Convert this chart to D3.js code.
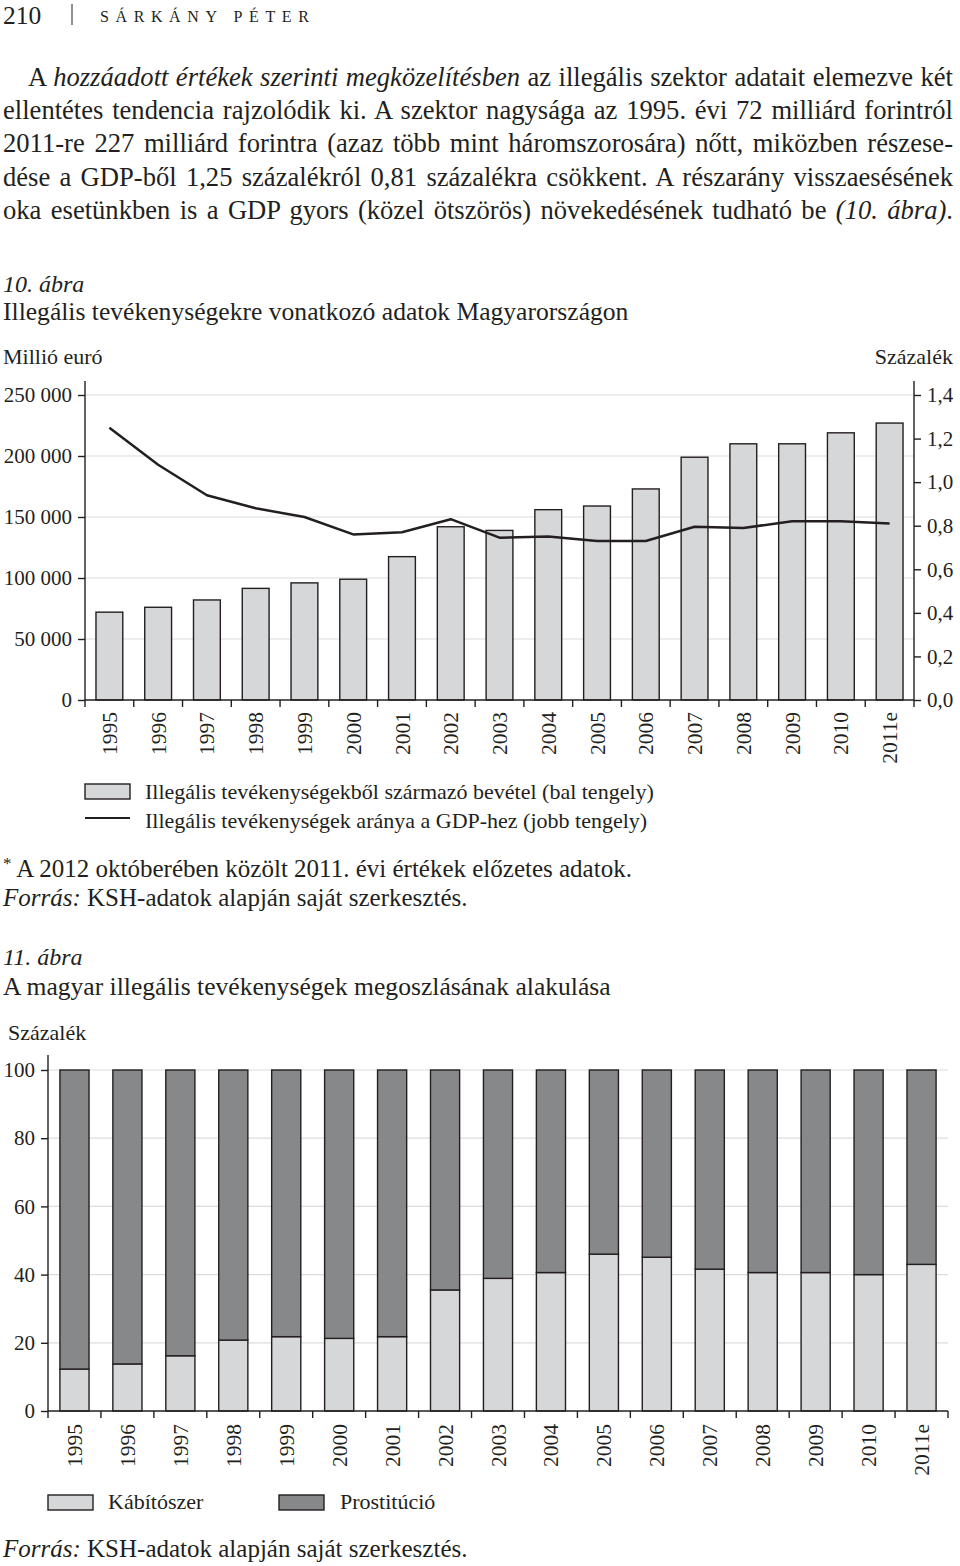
<!DOCTYPE html>
<html><head><meta charset="utf-8">
<script src="https://cdn.jsdelivr.net/npm/d3@7"></script>
<style>
body{margin:0;background:#fff;}
svg text{font-family:"Liberation Serif","Times New Roman",serif;fill:#231f20;}
</style></head>
<body><svg id="c" width="960" height="1566"></svg>
<script>
// ---- data ----
const years = ["1995","1996","1997","1998","1999","2000","2001","2002","2003","2004","2005","2006","2007","2008","2009","2010","2011e"];
const revenue = [72000,76000,82000,91500,96000,99000,117500,142000,139000,156000,159000,173000,199000,210000,210000,219000,227000];
const gdpShare = [1.25,1.08,0.94,0.88,0.84,0.76,0.77,0.83,0.745,0.75,0.73,0.73,0.795,0.79,0.82,0.82,0.81];
const leftTicks = [0,50000,100000,150000,200000,250000];
const rightTicks = [0,0.2,0.4,0.6,0.8,1.0,1.2,1.4];
const drugs = [12.3,13.8,16.2,20.8,21.8,21.3,21.8,35.5,38.9,40.6,46.0,45.1,41.6,40.6,40.6,40.0,43.0];
const prostitution = [87.7,86.2,83.8,79.2,78.2,78.7,78.2,64.5,61.1,59.4,54.0,54.9,58.4,59.4,59.4,60.0,57.0];
const pctTicks = [0,20,40,60,80,100];

const loc = d3.formatLocale({decimal:",",thousands:"\u2009",grouping:[3],currency:["",""]});
const fmtL = v => loc.format(",")(v).replace(/\u2009/g," ");
const fmtR = loc.format(".1f");

const LIGHT="#d6d7d9", DARK="#87888a", INK="#231f20", GRID="#dcdcdc";
const AX=21, YR=21.5, LEG=22;
const svg = d3.select("#c");

// ---- header ----
svg.append("text").attr("x",3).attr("y",24).attr("font-size",25.5).text("210");
svg.append("line").attr("x1",72).attr("x2",72).attr("y1",4).attr("y2",25).attr("stroke",INK).attr("stroke-width",1);
svg.append("text").attr("x",100).attr("y",22).attr("font-size",16).attr("letter-spacing","6.6px").text("SÁRKÁNY PÉTER");

// ---- paragraph (justified) ----
const para = [
 {x:28, parts:[["A ",0],["hozzáadott értékek szerinti megközelítésben",1],[" az illegális szektor adatait elemezve két",0]]},
 {x:3, parts:[["ellentétes tendencia rajzolódik ki. A szektor nagysága az 1995. évi 72 milliárd forintról",0]]},
 {x:3, parts:[["2011-re 227 milliárd forintra (azaz több mint háromszorosára) nőtt, miközben részese-",0]]},
 {x:3, parts:[["dése a GDP-ből 1,25 százalékról 0,81 százalékra csökkent. A részarány visszaesésének",0]]},
 {x:3, parts:[["oka esetünkben is a GDP gyors (közel ötszörös) növekedésének tudható be ",0],["(10. ábra)",1],[".",0]]}
];
const paraY = [86,119,152,186,219];
para.forEach((ln,i)=>{
  const t = svg.append("text").attr("x",ln.x).attr("y",paraY[i]).attr("font-size",26.6);
  ln.parts.forEach(p=>t.append("tspan").attr("font-style",p[1]?"italic":"normal").text(p[0]));
  const w = t.node().getComputedTextLength();
  const n = ln.parts.map(p=>p[0]).join("").split(" ").length-1;
  t.attr("word-spacing",((953-ln.x)-w)/n);
});

// ---- figure 10 ----
svg.append("text").attr("x",3).attr("y",292).attr("font-size",24).attr("font-style","italic").text("10. ábra");
svg.append("text").attr("x",3).attr("y",320).attr("font-size",25.6).text("Illegális tevékenységekre vonatkozó adatok Magyarországon");
svg.append("text").attr("x",3).attr("y",364).attr("font-size",LEG).text("Millió euró");
svg.append("text").attr("x",953).attr("y",364).attr("font-size",LEG).attr("text-anchor","end").text("Százalék");

const x1 = d3.scaleBand().domain(years).range([85,914]).paddingInner(0.45).paddingOuter(0.225);
const yL = d3.scaleLinear().domain([0,250000]).range([700,395]);
const yR = d3.scaleLinear().domain([0,1.4]).range([700,395]);

const g1 = svg.append("g");
g1.selectAll("line.grid").data(leftTicks.slice(1)).join("line")
  .attr("x1",85).attr("x2",914).attr("y1",d=>yL(d)).attr("y2",d=>yL(d))
  .attr("stroke",GRID).attr("stroke-width",1.2);

g1.selectAll("rect.bar").data(years).join("rect")
  .attr("x",d=>x1(d)).attr("width",x1.bandwidth())
  .attr("y",(d,i)=>yL(revenue[i])).attr("height",(d,i)=>700-yL(revenue[i]))
  .attr("fill",LIGHT).attr("stroke",INK).attr("stroke-width",1.4);

const line = d3.line().x((d,i)=>x1(years[i])+x1.bandwidth()/2).y(d=>yR(d));
g1.append("path").datum(gdpShare).attr("d",line).attr("fill","none").attr("stroke",INK).attr("stroke-width",2.5).attr("stroke-linejoin","round");

// left axis
const axL = g1.append("g").attr("transform","translate(85,0)")
  .call(d3.axisLeft(yL).tickValues(leftTicks).tickFormat(fmtL).tickSize(7).tickPadding(6));
axL.select(".domain").attr("d","M0,381V700");
// right axis
const axR = g1.append("g").attr("transform","translate(914,0)")
  .call(d3.axisRight(yR).tickValues(rightTicks).tickFormat(fmtR).tickSize(7).tickPadding(6));
axR.select(".domain").attr("d","M0,381V700");
[axL,axR].forEach(a=>{a.selectAll("text").attr("font-size",AX).attr("font-family","Liberation Serif").attr("fill",INK);
  a.selectAll("line,path").attr("stroke",INK).attr("stroke-width",1.4);});
// bottom axis
g1.append("line").attr("x1",85).attr("x2",914).attr("y1",700).attr("y2",700).attr("stroke",INK).attr("stroke-width",1.4);
g1.selectAll("line.bt").data(d3.range(years.length+1)).join("line")
  .attr("x1",i=>85+i*x1.step()).attr("x2",i=>85+i*x1.step()).attr("y1",700).attr("y2",707).attr("stroke",INK).attr("stroke-width",1.4);
g1.selectAll("text.yr").data(years).join("text")
  .attr("transform",d=>`translate(${x1(d)+x1.bandwidth()/2},712) rotate(-90)`)
  .attr("text-anchor","end").attr("dy","0.35em").attr("font-size",YR).text(d=>d);

// legend fig 10
svg.append("rect").attr("x",85).attr("y",784).attr("width",45).attr("height",15).attr("fill",LIGHT).attr("stroke",INK).attr("stroke-width",1.4);
svg.append("text").attr("x",145).attr("y",799).attr("font-size",LEG).text("Illegális tevékenységekből származó bevétel (bal tengely)");
svg.append("line").attr("x1",85).attr("x2",130).attr("y1",818).attr("y2",818).attr("stroke",INK).attr("stroke-width",2);
svg.append("text").attr("x",145).attr("y",828).attr("font-size",LEG).text("Illegális tevékenységek aránya a GDP-hez (jobb tengely)");

// footnote
const fn = svg.append("text").attr("x",3).attr("y",877).attr("font-size",25);
fn.append("tspan").attr("font-size",17).attr("dy",-8).text("*");
fn.append("tspan").attr("dy",8).text(" A 2012 októberében közölt 2011. évi értékek előzetes adatok.");
const src1 = svg.append("text").attr("x",3).attr("y",906).attr("font-size",25);
src1.append("tspan").attr("font-style","italic").text("Forrás:");
src1.append("tspan").text(" KSH-adatok alapján saját szerkesztés.");

// ---- figure 11 ----
svg.append("text").attr("x",3).attr("y",965).attr("font-size",24).attr("font-style","italic").text("11. ábra");
svg.append("text").attr("x",3).attr("y",995).attr("font-size",25.6).text("A magyar illegális tevékenységek megoszlásának alakulása");
svg.append("text").attr("x",8).attr("y",1040).attr("font-size",LEG).text("Százalék");

const x2 = d3.scaleBand().domain(years).range([48,948]).paddingInner(0.45).paddingOuter(0.225);
const y2 = d3.scaleLinear().domain([0,100]).range([1411,1070]);
const g2 = svg.append("g");
g2.selectAll("line.grid").data(pctTicks.slice(1)).join("line")
  .attr("x1",48).attr("x2",948).attr("y1",d=>y2(d)).attr("y2",d=>y2(d)).attr("stroke",GRID).attr("stroke-width",1.2);

g2.selectAll("rect.d").data(years).join("rect")
  .attr("x",d=>x2(d)).attr("width",x2.bandwidth())
  .attr("y",(d,i)=>y2(drugs[i])).attr("height",(d,i)=>y2(0)-y2(drugs[i]))
  .attr("fill",LIGHT).attr("stroke",INK).attr("stroke-width",1.4);
g2.selectAll("rect.p").data(years).join("rect")
  .attr("x",d=>x2(d)).attr("width",x2.bandwidth())
  .attr("y",(d,i)=>y2(drugs[i]+prostitution[i])).attr("height",(d,i)=>y2(drugs[i])-y2(drugs[i]+prostitution[i]))
  .attr("fill",DARK).attr("stroke",INK).attr("stroke-width",1.4);

const ax2 = g2.append("g").attr("transform","translate(48,0)")
  .call(d3.axisLeft(y2).tickValues(pctTicks).tickSize(7).tickPadding(6));
ax2.select(".domain").attr("d","M0,1055V1411");
ax2.selectAll("text").attr("font-size",AX).attr("font-family","Liberation Serif").attr("fill",INK);
ax2.selectAll("line,path").attr("stroke",INK).attr("stroke-width",1.4);
g2.append("line").attr("x1",48).attr("x2",948).attr("y1",1411).attr("y2",1411).attr("stroke",INK).attr("stroke-width",1.4);
g2.selectAll("line.bt").data(d3.range(years.length+1)).join("line")
  .attr("x1",i=>48+i*x2.step()).attr("x2",i=>48+i*x2.step()).attr("y1",1411).attr("y2",1418).attr("stroke",INK).attr("stroke-width",1.4);
g2.selectAll("text.yr").data(years).join("text")
  .attr("transform",d=>`translate(${x2(d)+x2.bandwidth()/2},1424) rotate(-90)`)
  .attr("text-anchor","end").attr("dy","0.35em").attr("font-size",YR).text(d=>d);

// legend fig 11
svg.append("rect").attr("x",48).attr("y",1495).attr("width",45).attr("height",15).attr("fill",LIGHT).attr("stroke",INK).attr("stroke-width",1.4);
svg.append("text").attr("x",108).attr("y",1509).attr("font-size",LEG).text("Kábítószer");
svg.append("rect").attr("x",279).attr("y",1495).attr("width",45).attr("height",15).attr("fill",DARK).attr("stroke",INK).attr("stroke-width",1.4);
svg.append("text").attr("x",340).attr("y",1509).attr("font-size",LEG).text("Prostitúció");

const src2 = svg.append("text").attr("x",3).attr("y",1557).attr("font-size",25);
src2.append("tspan").attr("font-style","italic").text("Forrás:");
src2.append("tspan").text(" KSH-adatok alapján saját szerkesztés.");
</script></body></html>
